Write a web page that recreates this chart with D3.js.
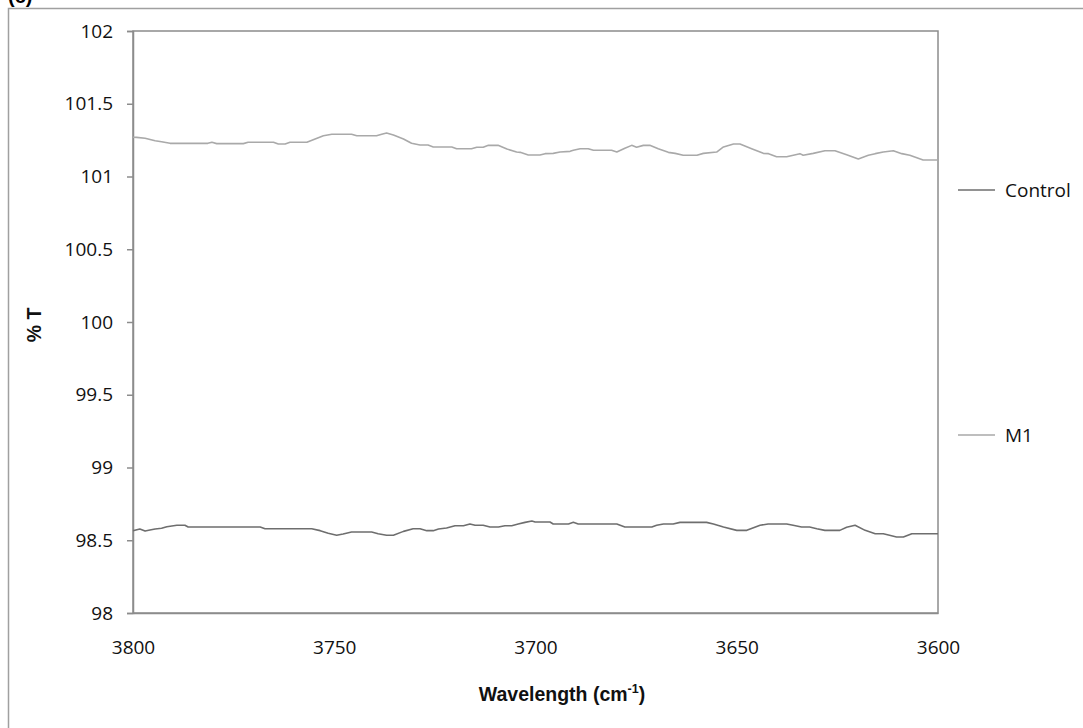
<!DOCTYPE html>
<html>
<head>
<meta charset="utf-8">
<script src="https://cdn.jsdelivr.net/npm/d3@7"></script>
<style>
  html, body { margin: 0; padding: 0; background: #fff; }
  svg { display: block; }
</style>
</head>
<body>
<svg id="chart" width="1083" height="728"></svg>
<script>
// FTIR transmittance, 3800-3600 cm-1
const seriesNames = ["Control", "M1"];

const controlWn = [3800, 3799.3, 3798.3, 3797.0, 3795.8, 3794.5, 3792.9, 3791.6, 3789.1, 3787.1, 3786.3,
  3768.4, 3767.2, 3755.6, 3753.5, 3751.5, 3749.4, 3747.8, 3745.7, 3740.7, 3739.1, 3737.0, 3735.3,
  3732.8, 3730.4, 3728.7, 3727.0, 3725.4, 3724.1, 3722.1, 3720.0, 3717.9, 3716.3, 3715.0, 3713.0,
  3711.3, 3709.2, 3707.6, 3705.9, 3704.3, 3702.6, 3700.9, 3700.1, 3696.4, 3695.6, 3691.8, 3690.6,
  3689.4, 3679.8, 3677.8, 3671.1, 3669.9, 3668.2, 3665.8, 3664.1, 3657.5, 3655.8, 3653.3, 3650.0,
  3647.5, 3644.2, 3642.2, 3637.6, 3636.0, 3633.9, 3631.9, 3630.1, 3628.1, 3624.4, 3622.7, 3620.6,
  3618.1, 3615.6, 3613.6, 3612.3, 3610.3, 3608.6, 3606.5, 3600];
const controlT = [98.565, 98.570, 98.577, 98.563, 98.570, 98.577, 98.582, 98.593, 98.603, 98.603, 98.591,
  98.591, 98.579, 98.579, 98.566, 98.548, 98.534, 98.543, 98.557, 98.557, 98.545, 98.534, 98.534,
  98.561, 98.579, 98.579, 98.566, 98.566, 98.577, 98.584, 98.600, 98.600, 98.612, 98.603, 98.603,
  98.591, 98.591, 98.600, 98.600, 98.612, 98.623, 98.632, 98.625, 98.625, 98.612, 98.612, 98.623,
  98.612, 98.612, 98.591, 98.591, 98.603, 98.612, 98.612, 98.623, 98.623, 98.612, 98.591, 98.568,
  98.568, 98.603, 98.612, 98.612, 98.603, 98.591, 98.591, 98.579, 98.568, 98.568, 98.589, 98.603,
  98.568, 98.545, 98.545, 98.536, 98.522, 98.522, 98.545, 98.545];

const m1Wn = [3800, 3799.1, 3797.0, 3794.5, 3792.9, 3790.8, 3781.4, 3780.4, 3779.2, 3772.6, 3771.4,
  3765.1, 3763.9, 3762.2, 3761.0, 3756.8, 3752.7, 3750.6, 3745.7, 3744.4, 3739.5, 3738.2, 3737.0,
  3735.3, 3732.8, 3730.8, 3728.7, 3726.7, 3725.4, 3720.8, 3719.6, 3715.9, 3714.6, 3713.0, 3711.7,
  3709.3, 3707.1, 3704.7, 3703.8, 3701.8, 3698.9, 3697.6, 3695.6, 3693.9, 3691.4, 3690.6, 3688.9,
  3686.9, 3685.6, 3681.1, 3679.8, 3677.8, 3676.1, 3674.9, 3673.2, 3671.6, 3669.5, 3667.0, 3665.3,
  3663.3, 3659.9, 3658.3, 3655.0, 3653.3, 3650.8, 3649.2, 3646.3, 3643.4, 3642.1, 3640.1, 3637.6,
  3634.3, 3633.5, 3631.0, 3628.1, 3625.6, 3622.7, 3619.8, 3617.3, 3615.6, 3613.6, 3611.1, 3609.0,
  3607.0, 3603.7, 3600];
const m1T = [101.270, 101.269, 101.263, 101.246, 101.239, 101.228, 101.228, 101.235, 101.226, 101.226, 101.235,
  101.235, 101.223, 101.223, 101.235, 101.235, 101.280, 101.290, 101.290, 101.280, 101.280, 101.290, 101.299,
  101.285, 101.258, 101.228, 101.216, 101.216, 101.203, 101.203, 101.191, 101.191, 101.201, 101.201, 101.214,
  101.214, 101.189, 101.168, 101.166, 101.148, 101.148, 101.157, 101.159, 101.168, 101.173, 101.180, 101.191,
  101.191, 101.180, 101.180, 101.168, 101.194, 101.214, 101.201, 101.214, 101.214, 101.191, 101.166, 101.159,
  101.146, 101.146, 101.159, 101.168, 101.203, 101.223, 101.223, 101.191, 101.159, 101.157, 101.136, 101.136,
  101.157, 101.146, 101.159, 101.177, 101.177, 101.150, 101.120, 101.146, 101.157, 101.168, 101.177, 101.157,
  101.146, 101.113, 101.113];

const xTicks = [3800, 3750, 3700, 3650, 3600];
const yTicks = [98, 98.5, 99, 99.5, 100, 100.5, 101, 101.5, 102];

const svg = d3.select("#chart");
const plot = { left: 133, top: 31, right: 938, bottom: 613 };
const tickFont = "'Open Sans', 'Noto Sans', sans-serif";
const axisGrey = "#8c8c8c";

// outer chart frame (open on the right and bottom)
svg.append("path")
  .attr("d", "M8.5,728 L8.5,8.5 L1083,8.5")
  .attr("fill", "none").attr("stroke", "#a0a0a0").attr("stroke-width", 1.5);

// panel letter, sitting above the frame
svg.append("text")
  .attr("x", 8).attr("y", 3)
  .attr("font-family", "'Liberation Sans', Arial, sans-serif")
  .attr("font-weight", "bold").attr("font-size", 20)
  .text("(c)");

const x = d3.scaleLinear().domain([3800, 3600]).range([plot.left, plot.right]);
const y = d3.scaleLinear().domain([98, 102]).range([plot.bottom, plot.top]);

// plot area border
svg.append("rect")
  .attr("x", plot.left).attr("y", plot.top)
  .attr("width", plot.right - plot.left).attr("height", plot.bottom - plot.top)
  .attr("fill", "none").attr("stroke", axisGrey).attr("stroke-width", 1.5);

// y axis
const yAxis = svg.append("g")
  .attr("transform", `translate(${plot.left},0)`)
  .call(d3.axisLeft(y).tickValues(yTicks).tickSize(6).tickPadding(14).tickFormat(d3.format("")));
yAxis.select(".domain").attr("stroke", axisGrey).attr("stroke-width", 1.5);
yAxis.selectAll(".tick line").attr("stroke", axisGrey).attr("stroke-width", 1.5);
yAxis.selectAll(".tick text")
  .attr("font-family", tickFont).attr("font-size", 19).attr("fill", "#111");

// x axis
const xAxis = svg.append("g")
  .attr("transform", `translate(0,${plot.bottom})`)
  .call(d3.axisBottom(x).tickValues(xTicks).tickSize(0).tickPadding(28).tickFormat(d3.format("d")));
xAxis.select(".domain").attr("stroke", axisGrey).attr("stroke-width", 1.5);
xAxis.selectAll(".tick text")
  .attr("font-family", tickFont).attr("font-size", 19).attr("fill", "#111");

// axis titles
const xTitle = svg.append("text")
  .attr("x", 562).attr("y", 701)
  .attr("text-anchor", "middle")
  .attr("font-family", "'Liberation Sans', Arial, sans-serif")
  .attr("font-weight", "bold").attr("font-size", 19.5).attr("fill", "#111");
xTitle.append("tspan").text("Wavelength (cm");
xTitle.append("tspan").attr("dy", -8).attr("font-size", 12.5).text("-1");
xTitle.append("tspan").attr("dy", 8).text(")");

svg.append("text")
  .attr("transform", "translate(41,325) rotate(-90)")
  .attr("text-anchor", "middle")
  .attr("font-family", "'Liberation Sans', Arial, sans-serif")
  .attr("font-weight", "bold").attr("font-size", 19.5).attr("fill", "#111")
  .text("% T");

// series
const series = [
  { name: seriesNames[0], wn: controlWn, t: controlT, color: "#6e6e6e" },
  { name: seriesNames[1], wn: m1Wn, t: m1T, color: "#a9a9a9" }
];
const line = d3.line().x(d => x(d[0])).y(d => y(d[1]));
series.forEach(s => {
  svg.append("path")
    .datum(d3.zip(s.wn, s.t))
    .attr("fill", "none")
    .attr("stroke", s.color)
    .attr("stroke-width", 1.6)
    .attr("stroke-linejoin", "round")
    .attr("d", line);
});

// legend
const legendY = [190, 435];
series.forEach((s, i) => {
  const g = svg.append("g").attr("transform", `translate(958,${legendY[i]})`);
  g.append("line").attr("x1", 0).attr("x2", 37).attr("y1", 0).attr("y2", 0)
    .attr("stroke", s.color).attr("stroke-width", 1.6);
  g.append("text").attr("x", 47).attr("y", 0).attr("dy", "0.35em")
    .attr("font-family", tickFont).attr("font-size", 19).attr("fill", "#111")
    .text(s.name);
});
</script>
</body>
</html>
